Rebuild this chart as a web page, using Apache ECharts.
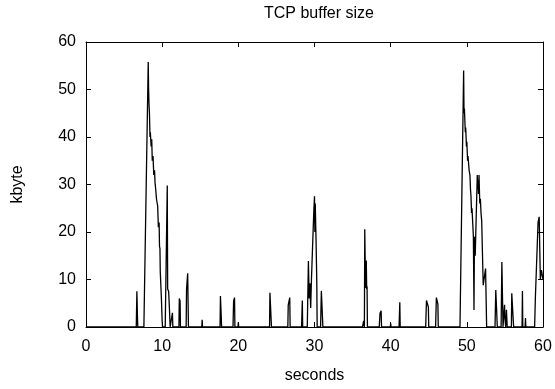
<!DOCTYPE html>
<html>
<head>
<meta charset="utf-8">
<script src="https://cdn.jsdelivr.net/npm/echarts@6/dist/echarts.min.js"></script>
<style>
  html, body { margin: 0; padding: 0; background: #fff; }
  #chart { width: 555px; height: 389px; }
</style>
</head>
<body>
<div id="chart"></div>
<script>
// time stamps (s) and buffer size (kbyte)
var seconds = [
  0, 6.6, 6.68, 6.75, 6.8,
  7.6, 8.17, 8.22, 8.27, 8.33, 8.4, 8.45, 8.55, 8.63, 8.7, 8.8, 8.9, 9.0, 9.06,
  9.15, 9.25, 9.35, 9.41, 9.5, 9.6, 9.65, 9.71, 9.75, 9.85, 9.9, 10.0, 10.05,
  10.4, 10.67, 10.72, 10.85, 10.95, 11.05,
  11.3, 11.35, 11.4,
  12.2, 12.25, 12.35, 12.4,
  13.15, 13.2, 13.35, 13.45,
  15.2, 15.25, 15.3,
  17.6, 17.65, 17.75, 17.8,
  19.3, 19.38, 19.5, 19.55,
  19.95, 20.0, 20.05,
  24.1, 24.15, 24.3, 24.35,
  26.5, 26.55, 26.75, 26.8,
  28.3, 28.4, 28.45,
  29.05, 29.2, 29.3, 29.4, 29.5, 29.6, 29.9, 30.0, 30.05, 30.1, 30.2, 30.3, 30.35,
  30.8, 30.9, 31.1,
  36.3, 36.45, 36.55, 36.6, 36.7, 36.8, 36.85, 36.9, 36.95,
  38.5, 38.6, 38.75, 38.8,
  39.95, 40.0, 40.05,
  41.1, 41.2, 41.25,
  44.6, 44.7, 44.95, 45.0,
  45.9, 46.0, 46.2, 46.25,
  49.1, 49.58, 49.63, 49.68, 49.8, 49.85, 49.95, 50.0, 50.1, 50.15, 50.3, 50.41,
  50.48, 50.54, 50.62, 50.68, 50.8, 50.86, 50.94,
  51.0, 51.1, 51.37, 51.42, 51.48, 51.53, 51.6, 51.7, 51.78, 51.86, 51.95, 52.15, 52.46, 52.6,
  53.7, 53.8, 53.9, 54.0,
  54.5, 54.6, 54.7, 54.75,
  54.95, 55.0, 55.1, 55.2, 55.3,
  55.85, 55.9, 56.0, 56.1, 56.15,
  57.25, 57.3, 57.35,
  57.65, 57.7, 57.75,
  58.9, 59.0, 59.35, 59.5, 59.65, 59.8, 60
];
var kbytes = [
  0, 0, 7.5, 2.5, 0,
  0, 55.8, 50, 47, 45, 40, 41, 38, 39.5, 35, 36, 32, 33, 30.5,
  29, 27, 26, 25.5, 21, 22, 17, 16.5, 11.7, 12, 6, 1.2, 0,
  0, 29.8, 8, 7.5, 4, 0,
  0, 3, 0,
  0, 6, 5.5, 0,
  0, 8, 11.3, 0,
  0, 1.5, 0,
  0, 6.5, 2.5, 0,
  0, 5.5, 6.2, 0,
  0, 1, 0,
  0, 7.2, 7.5, 0,
  0, 4.6, 6.2, 0,
  0, 5.6, 0,
  0, 13.9, 6, 9.2, 4, 10, 24, 27.5, 20, 26, 18.6, 9.6, 0,
  0, 7.6, 0,
  0, 1.3, 0, 20.6, 8.2, 14, 8, 8.6, 0,
  0, 2.9, 3.4, 0,
  0, 0.8, 0,
  0, 5.2, 0,
  0, 5.6, 4.2, 0,
  0, 6.2, 4.8, 0,
  0, 54, 45, 46, 41, 42, 38, 39, 35, 36, 33, 31.9,
  29, 27.7, 24, 25, 21, 19, 3.6,
  19, 15, 32, 29, 31, 28, 32, 26, 27, 24, 22.4, 8.8, 12.3, 0,
  0, 7.8, 4, 0,
  0, 13.7, 4.7, 0,
  4.7, 2, 0, 3.6, 0,
  0, 7.1, 7, 1.2, 0,
  0, 7.6, 0,
  0, 1.9, 0,
  0, 6.2, 22, 23.2, 9.9, 12, 10
];
var xTicks = [0, 10, 20, 30, 40, 50, 60];
var yTicks = [0, 10, 20, 30, 40, 50, 60];

var points = seconds.map(function (t, i) { return [t, kbytes[i]]; });

var font = 'Liberation Sans';
var tickStyle = { show: true, inside: true, length: 5, lineStyle: { color: '#000', width: 1 } };
var lineStyle = { show: true, onZero: false, lineStyle: { color: '#000', width: 1 } };

var chart = echarts.init(document.getElementById('chart'));
chart.setOption({
  animation: false,
  title: {
    text: 'TCP buffer size',
    left: 314, top: 1, textAlign: 'center',
    textStyle: { fontFamily: font, fontSize: 16, fontWeight: 'normal', color: '#000' }
  },
  grid: { left: 86, right: 12, top: 42, bottom: 60 },
  xAxis: [{
    type: 'value', min: xTicks[0], max: xTicks[xTicks.length - 1], interval: 10,
    name: 'seconds', nameLocation: 'middle', nameGap: 41,
    nameTextStyle: { fontFamily: font, fontSize: 16, color: '#000' },
    axisLine: lineStyle, axisTick: tickStyle, splitLine: { show: false },
    axisLabel: { fontFamily: font, fontSize: 16, color: '#000', margin: 12 }
  }, {
    type: 'value', position: 'top', min: xTicks[0], max: xTicks[xTicks.length - 1], interval: 10,
    axisLine: lineStyle, axisTick: tickStyle, splitLine: { show: false }, axisLabel: { show: false }
  }],
  yAxis: [{
    type: 'value', min: yTicks[0], max: yTicks[yTicks.length - 1], interval: 10,
    name: 'kbyte', nameLocation: 'middle', nameGap: 60, nameRotate: 90,
    nameTextStyle: { fontFamily: font, fontSize: 16, color: '#000' },
    axisLine: lineStyle, axisTick: tickStyle, splitLine: { show: false },
    axisLabel: { fontFamily: font, fontSize: 16, color: '#000', margin: 10 }
  }, {
    type: 'value', position: 'right', min: yTicks[0], max: yTicks[yTicks.length - 1], interval: 10,
    axisLine: lineStyle, axisTick: tickStyle, splitLine: { show: false }, axisLabel: { show: false }
  }],
  series: [{
    type: 'line',
    data: points,
    showSymbol: false,
    lineStyle: { color: '#000', width: 1.3 },
    clip: true
  }]
});
</script>
</body>
</html>
